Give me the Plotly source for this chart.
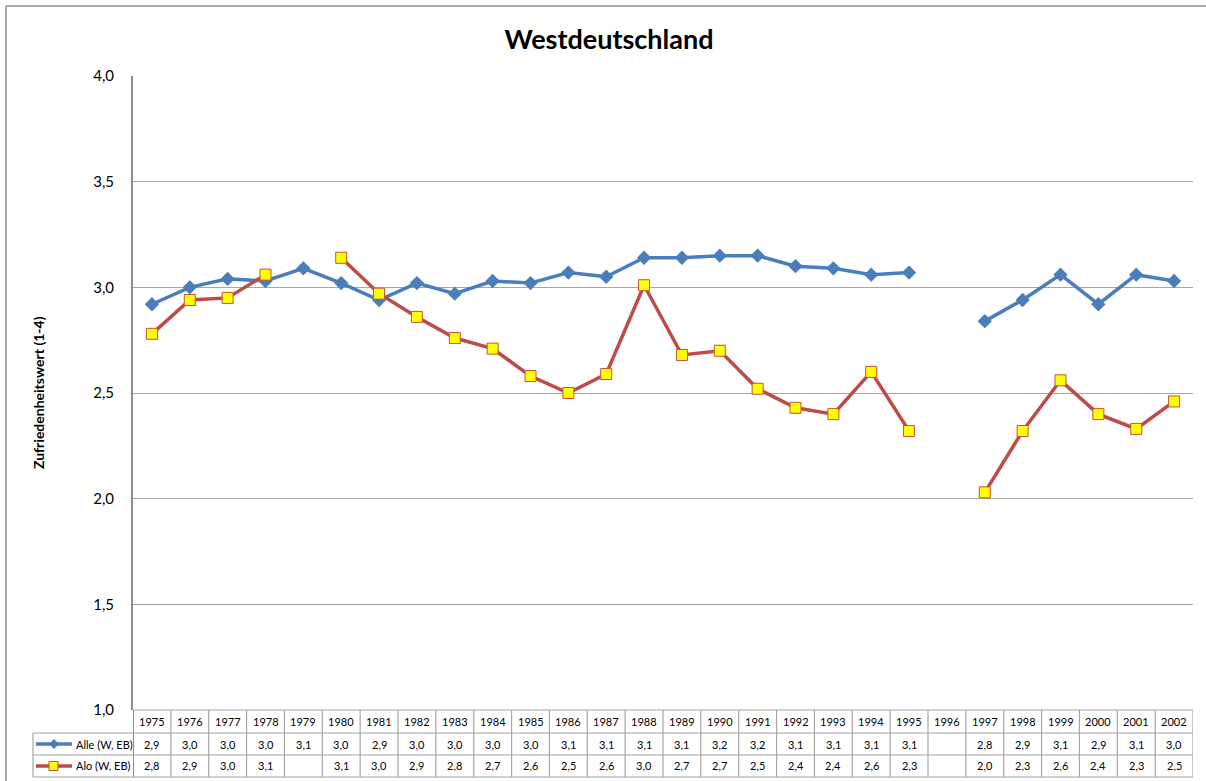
import plotly.graph_objects as go
from decimal import Decimal, ROUND_HALF_UP

# ---------------- data ----------------
years = [str(y) for y in range(1975, 2003)]  # includes 1996 (no data)
alle = [2.92, 3.00, 3.04, 3.03, 3.09, 3.02, 2.94, 3.02, 2.97, 3.03, 3.02, 3.07,
        3.05, 3.14, 3.14, 3.15, 3.15, 3.10, 3.09, 3.06, 3.07, None,
        2.84, 2.94, 3.06, 2.92, 3.06, 3.03]
alo = [2.78, 2.94, 2.95, 3.06, None, 3.14, 2.97, 2.86, 2.76, 2.71, 2.58, 2.50,
       2.59, 3.01, 2.68, 2.70, 2.52, 2.43, 2.40, 2.60, 2.32, None,
       2.03, 2.32, 2.56, 2.40, 2.33, 2.46]
series_names = ["Alle (W, EB)", "Alo (W, EB)"]
title_text = "Westdeutschland"
y_title = "Zufriedenheitswert (1-4)"

# ---------------- layout constants ----------------
W, H = 1206, 781
L, R, T, B = 133, 13, 76, 71
PW, PH = W - L - R, H - T - B
FONT = "Lato"
BLUE = "#4A7EBB"
RED = "#BE4B48"
GRID = "#A6A6A6"
AXIS = "#8C8C8C"


def px_x(px):
    return (px - L) / PW


def px_y(py):
    return (H - B - py) / PH


def fmt(v):
    if v is None:
        return ""
    d = Decimal(str(v)).quantize(Decimal("0.1"), rounding=ROUND_HALF_UP)
    return str(d).replace(".", ",")


fig = go.Figure()
fig.add_trace(go.Scatter(
    x=years, y=alle, mode="lines+markers", name=series_names[0],
    line=dict(color=BLUE, width=3.5),
    marker=dict(symbol="diamond", size=11, color=BLUE),
    connectgaps=False, showlegend=False))
fig.add_trace(go.Scatter(
    x=years, y=alo, mode="lines+markers", name=series_names[1],
    line=dict(color=RED, width=3.5),
    marker=dict(symbol="square", size=11, color="#FFFF00",
                line=dict(color="#C8503A", width=1)),
    connectgaps=False, showlegend=False))

shapes = []
annotations = []

# outer chart border (top and left edges visible)
shapes.append(dict(type="line", xref="paper", yref="paper",
                   x0=px_x(6), x1=px_x(W + 5), y0=px_y(6), y1=px_y(6),
                   line=dict(color=AXIS, width=1.5), layer="below"))
shapes.append(dict(type="line", xref="paper", yref="paper",
                   x0=px_x(6), x1=px_x(6), y0=px_y(6), y1=px_y(H + 5),
                   line=dict(color=AXIS, width=1.5), layer="below"))

# table horizontal lines
tbl_line = dict(color=GRID, width=1.2)
shapes.append(dict(type="line", xref="paper", yref="paper",
                   x0=0, x1=1, y0=px_y(710), y1=px_y(710), line=tbl_line))
for py in (733, 755, 777):
    shapes.append(dict(type="line", xref="paper", yref="paper",
                       x0=px_x(33), x1=1, y0=px_y(py), y1=px_y(py), line=tbl_line))
# legend column left edge
shapes.append(dict(type="line", xref="paper", yref="paper",
                   x0=px_x(33), x1=px_x(33), y0=px_y(733), y1=px_y(777), line=tbl_line))
# column boundaries
for i in range(len(years) + 1):
    shapes.append(dict(type="line", xref="x", yref="paper",
                       x0=i - 0.5, x1=i - 0.5, y0=px_y(710), y1=px_y(777),
                       line=dict(color=AXIS if i == 0 else GRID, width=2 if i == 0 else 1.2)))

# table texts
row_y = [721.5, 744, 766]
cell_font = dict(family=FONT, size=11, color="#000000")
for i, yr in enumerate(years):
    annotations.append(dict(xref="x", yref="paper", x=i, y=px_y(row_y[0]),
                            text=yr, showarrow=False, font=cell_font,
                            xanchor="center", yanchor="middle"))
    annotations.append(dict(xref="x", yref="paper", x=i, y=px_y(row_y[1]),
                            text=fmt(alle[i]), showarrow=False, font=cell_font,
                            xanchor="center", yanchor="middle"))
    annotations.append(dict(xref="x", yref="paper", x=i, y=px_y(row_y[2]),
                            text=fmt(alo[i]), showarrow=False, font=cell_font,
                            xanchor="center", yanchor="middle"))

# legend keys in table
for k, (name, color) in enumerate(zip(series_names, [BLUE, RED])):
    yy = row_y[k + 1]
    shapes.append(dict(type="line", xref="paper", yref="paper",
                       x0=px_x(36), x1=px_x(72), y0=px_y(yy), y1=px_y(yy),
                       line=dict(color=color, width=3.5)))
    annotations.append(dict(xref="paper", yref="paper", x=px_x(74), y=px_y(yy),
                            text=name, showarrow=False, font=cell_font,
                            xanchor="left", yanchor="middle"))
# diamond key
cx, cy = 54, row_y[1]
shapes.append(dict(type="path", xref="paper", yref="paper",
                   path=f"M {px_x(cx-4.5)} {px_y(cy)} L {px_x(cx)} {px_y(cy-4.5)} "
                        f"L {px_x(cx+4.5)} {px_y(cy)} L {px_x(cx)} {px_y(cy+4.5)} Z",
                   fillcolor=BLUE, line=dict(color=BLUE, width=1)))
cx, cy = 53.5, row_y[2]
shapes.append(dict(type="rect", xref="paper", yref="paper",
                   x0=px_x(cx - 4.5), x1=px_x(cx + 4.5), y0=px_y(cy + 4.5), y1=px_y(cy - 4.5),
                   fillcolor="#FFFF00", line=dict(color="#C8503A", width=1)))

# y axis title
annotations.append(dict(xref="paper", yref="paper", x=px_x(38), y=px_y(393),
                        text=f"<b>{y_title}</b>", textangle=-90, showarrow=False,
                        font=dict(family=FONT, size=14, color="#000000"),
                        xanchor="center", yanchor="middle"))

fig.update_layout(
    width=W, height=H,
    margin=dict(l=L, r=R, t=T, b=B, autoexpand=False),
    paper_bgcolor="white", plot_bgcolor="white",
    separators=", ",
    font=dict(family=FONT, color="#000000"),
    title=dict(text=f"<b>{title_text}</b>", x=609 / W, y=1 - 40 / H,
               xref="container", yref="container", xanchor="center", yanchor="middle",
               font=dict(family=FONT, size=27, color="#000000")),
    xaxis=dict(type="category", categoryorder="array", categoryarray=years,
               range=[-0.5, len(years) - 0.5], showticklabels=False,
               showgrid=False, zeroline=False, showline=False, ticks=""),
    yaxis=dict(range=[1, 4], tick0=1, dtick=0.5, tickformat=".1f",
               showgrid=True, gridcolor=GRID, gridwidth=1.2,
               zeroline=False, showline=True, linecolor=AXIS, linewidth=2,
               ticks="", ticklabelstandoff=14,
               tickfont=dict(family=FONT, size=15, color="#000000")),
    shapes=shapes,
    annotations=annotations,
    showlegend=False,
)

fig.write_html("out.html", config={"displayModeBar": False},
               post_script="document.body.style.margin='0';document.body.style.padding='0';")
